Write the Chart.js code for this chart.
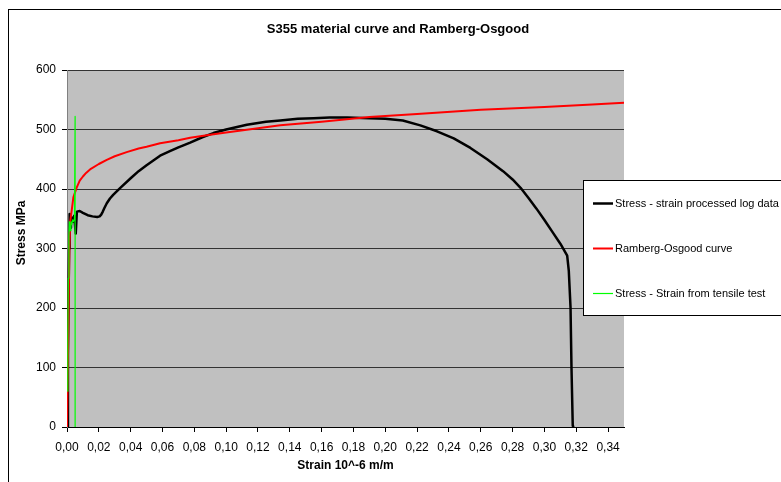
<!DOCTYPE html>
<html><head><meta charset="utf-8">
<script src="https://cdn.jsdelivr.net/npm/chart.js@4/dist/chart.umd.min.js"></script>
<style>html,body{margin:0;padding:0;background:#fff;}</style>
</head><body>
<canvas id="c" width="781" height="482" style="display:block;width:781px;height:482px"></canvas>
<script>
const chartTitle = 'S355 material curve and Ramberg-Osgood';
const xAxisTitle = 'Strain 10^-6 m/m';
const yAxisTitle = 'Stress MPa';
const seriesNames = ['Stress - strain processed log data', 'Ramberg-Osgood curve', 'Stress - Strain from tensile test'];
const seriesColors = ['#000000', '#FF0000', '#00FF00'];
const seriesWidths = [2.5, 2, 1.2];

const xTicks = [0, 0.02, 0.04, 0.06, 0.08, 0.10, 0.12, 0.14, 0.16, 0.18, 0.20, 0.22, 0.24, 0.26, 0.28, 0.30, 0.32, 0.34];
const yTicks = [0, 100, 200, 300, 400, 500, 600];

const logStrain = [0, 0.0006, 0.0010, 0.0013, 0.0015, 0.0018, 0.0020, 0.0025, 0.0030, 0.0037, 0.0045, 0.0055, 0.0062, 0.0080, 0.0100, 0.0130, 0.0160, 0.0190, 0.0205, 0.0215, 0.0225, 0.0235, 0.0250, 0.0270, 0.0290, 0.0335, 0.0400, 0.0450, 0.0500, 0.0585, 0.0650, 0.0700, 0.0774, 0.0850, 0.0920, 0.1000, 0.1130, 0.1250, 0.1340, 0.1450, 0.1550, 0.1650, 0.1760, 0.1900, 0.2000, 0.2110, 0.2220, 0.2325, 0.2430, 0.2535, 0.2640, 0.2740, 0.2800, 0.2850, 0.2900, 0.2950, 0.3000, 0.3050, 0.3100, 0.3143, 0.3153, 0.3164, 0.3170, 0.3178, 0.3185];
const logStress = [0, 120, 220, 300, 358, 340, 335, 345, 352, 345, 355, 325, 362, 363, 360, 356, 354, 353, 354, 357, 362, 368, 376, 384, 390, 402, 418, 430, 440, 456, 464, 470, 478, 487, 494, 500, 508, 513, 515, 518, 519, 520, 520, 519, 518, 515, 507, 497, 485, 469, 450, 430, 416, 402, 385, 367, 348, 328, 308, 288, 263, 201, 100, 2, 0];

const roStrain = [0, 0.0015, 0.0020, 0.0030, 0.0040, 0.0060, 0.0080, 0.0100, 0.0120, 0.0150, 0.0200, 0.0250, 0.0300, 0.0375, 0.0450, 0.0500, 0.0585, 0.0700, 0.0774, 0.0900, 0.1000, 0.1200, 0.1340, 0.1600, 0.1900, 0.2200, 0.2600, 0.3000, 0.3300, 0.3500];
const roStress = [0, 300, 345, 365, 386, 402, 414, 421, 427, 434, 442, 449, 455, 462, 468, 471, 477, 482, 486, 491, 495, 502, 507, 513, 521, 526, 533, 538, 542, 545];

const testStrain = [0.0003, 0.0005, 0.0008, 0.0012, 0.0015, 0.0020, 0.0025, 0.0030, 0.0035, 0.0040, 0.0047, 0.0051, 0.0051];
const testStress = [60, 150, 250, 320, 345, 330, 345, 340, 348, 345, 350, 522, 0];

const toPts = (xs, ys) => xs.map((x, i) => ({x: x, y: ys[i]}));
const FONT = "'Liberation Sans', Arial, sans-serif";

const framePlugin = {
  id: 'frame',
  beforeDraw(chart) {
    const ctx = chart.ctx;
    ctx.save();
    ctx.fillStyle = '#fff';
    ctx.fillRect(0, 0, chart.width, chart.height);
    ctx.strokeStyle = '#000';
    ctx.lineWidth = 1;
    ctx.strokeRect(8.5, 9.5, 800, 500);
    const a = chart.chartArea;
    ctx.fillStyle = '#C0C0C0';
    ctx.fillRect(a.left, a.top, a.right - a.left, a.bottom - a.top);
    ctx.fillStyle = '#000';
    ctx.font = 'bold 13px ' + FONT;
    ctx.textAlign = 'center';
    ctx.textBaseline = 'middle';
    ctx.fillText(chartTitle, 398, 29);
    ctx.translate(22, 233);
    ctx.rotate(-Math.PI / 2);
    ctx.font = 'bold 12px ' + FONT;
    ctx.fillText(yAxisTitle, 0, 0);
    ctx.restore();
  },
  afterDraw(chart) {
    const ctx = chart.ctx;
    ctx.save();
    ctx.fillStyle = '#fff';
    ctx.fillRect(583, 180, 210, 135);
    ctx.strokeStyle = '#000';
    ctx.lineWidth = 1;
    ctx.strokeRect(583.5, 180.5, 210, 135);
    ctx.font = '11px ' + FONT;
    ctx.textAlign = 'left';
    ctx.textBaseline = 'middle';
    chart.data.datasets.forEach((ds, i) => {
      const y = 203 + i * 45;
      ctx.strokeStyle = ds.borderColor;
      ctx.lineWidth = ds.borderWidth;
      ctx.beginPath();
      ctx.moveTo(593, y + 0.5);
      ctx.lineTo(613, y + 0.5);
      ctx.stroke();
      ctx.fillStyle = '#000';
      ctx.fillText(ds.label, 615, y + 1);
    });
    ctx.restore();
  }
};

new Chart(document.getElementById('c'), {
  type: 'scatter',
  data: {
    datasets: [
      {label: seriesNames[0], data: toPts(logStrain, logStress), borderColor: seriesColors[0], borderWidth: seriesWidths[0], order: 2},
      {label: seriesNames[1], data: toPts(roStrain, roStress), borderColor: seriesColors[1], borderWidth: seriesWidths[1], order: 1},
      {label: seriesNames[2], data: toPts(testStrain, testStress), borderColor: seriesColors[2], borderWidth: seriesWidths[2], order: 0}
    ].map(d => Object.assign(d, {showLine: true, pointRadius: 0, pointHoverRadius: 0, tension: 0, fill: false, backgroundColor: d.borderColor, borderJoinStyle: 'round'}))
  },
  options: {
    responsive: false,
    animation: false,
    devicePixelRatio: 1,
    layout: {padding: {left: 10, top: 70, right: 157, bottom: 5}},
    plugins: {legend: {display: false}, title: {display: false}, tooltip: {enabled: false}},
    events: [],
    scales: {
      x: {
        type: 'linear', min: 0, max: 0.35,
        afterBuildTicks: s => { s.ticks = xTicks.map(v => ({value: v})); },
        afterFit: s => { s.height = 50; },
        ticks: {color: '#000', font: {family: FONT, size: 12}, padding: 8, maxRotation: 0, autoSkip: false,
          callback: v => Number(v).toFixed(2).replace('.', ',')},
        grid: {drawOnChartArea: false, drawTicks: true, tickLength: 5, tickColor: '#000', color: '#000'},
        border: {display: true, color: '#000', width: 1},
        title: {display: true, text: xAxisTitle, color: '#000', font: {family: FONT, size: 12, weight: 'bold'}, padding: {top: 4, bottom: 4}}
      },
      y: {
        type: 'linear', min: 0, max: 600,
        afterBuildTicks: s => { s.ticks = yTicks.map(v => ({value: v})); },
        afterFit: s => { s.width = 57; },
        ticks: {color: '#000', font: {family: FONT, size: 12}, padding: 6},
        grid: {drawTicks: true, tickLength: 5, tickColor: '#000', color: '#333333', lineWidth: 1},
        border: {display: true, color: '#808080', width: 1},
        title: {display: false}
      }
    }
  },
  plugins: [framePlugin]
});
</script>
</body></html>
